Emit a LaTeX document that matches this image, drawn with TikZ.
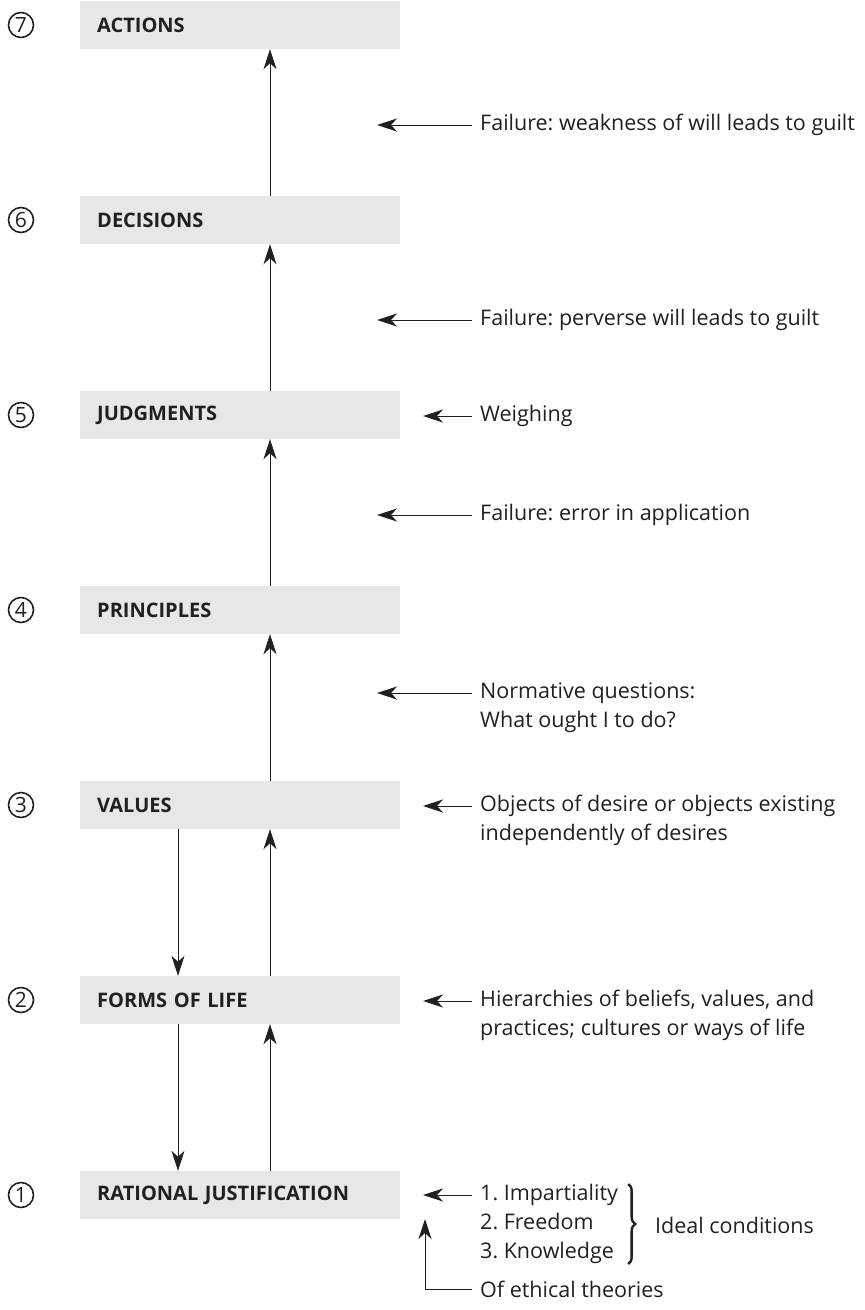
\documentclass[tikz,border=0pt]{standalone}
\usepackage{fontspec}
\setmainfont{Open Sans}
\usetikzlibrary{arrows.meta,decorations.pathreplacing}

\definecolor{boxgray}{HTML}{E6E7E8}
\definecolor{ink}{HTML}{231F20}
\frenchspacing

\begin{document}
\begin{tikzpicture}[x=1pt,y=-1pt,
  every node/.style={text=ink},
  stagebox/.style={fill=boxgray, anchor=west, minimum width=320pt, minimum height=48pt,
    text width=286pt, inner xsep=17pt, align=left, font=\fontsize{20}{24}\selectfont\bfseries},
  numcirc/.style={draw=ink, circle, line width=1.6pt, minimum size=25pt, inner sep=0pt,
    font=\fontsize{21}{22}\selectfont},
  note/.style={anchor=west, inner sep=0pt, align=left, font=\fontsize{21.5}{29}\selectfont},
  pointer/.style={draw=ink, line width=1pt, -{Stealth[length=20pt, width=13pt, inset=6pt]}},
  bracket/.style={draw=ink, line width=2.4pt, decorate, decoration={brace, amplitude=7pt}}]
\useasboundingbox (0,0) rectangle (865,1310);

% stufen
\foreach \i/\lab in {1/RATIONAL JUSTIFICATION,2/FORMS OF LIFE,3/VALUES,4/PRINCIPLES,
                     5/JUDGMENTS,6/DECISIONS,7/ACTIONS} {
\node[stagebox] (s\i) at (80,{25+(7-\i)*195}) {\lab};
\node[numcirc] (n\i) at (21,{25+(7-\i)*195}) {\i};
}
\foreach \i [evaluate=\i as \j using int(\i+1)] in {1,...,6} {
\draw[pointer] ([xshift=190pt]s\i.north west) -- ([xshift=190pt]s\j.south west);
}
\foreach \i/\j in {3/2,2/1} {
\draw[pointer] ([xshift=98pt]s\i.south west) -- ([xshift=98pt]s\j.north west);
}

% failure
\foreach \y/\nm/\txt in {125/weak/{Failure: weakness of will leads to guilt},
                         320/perv/{Failure: perverse will leads to guilt},
                         515/err/{Failure: error in application}} {
\node[note] (\nm) at (480,\y) {\txt};
\coordinate (t\nm) at (377,\y);
\draw[pointer] ([xshift=-8pt]\nm.west) -- (t\nm);
}

% rechts
\node[note] (weigh) at (480,416) {Weighing};
\coordinate (tweigh) at (423,416);
\draw[pointer] ([xshift=-8pt]weigh.west) -- (tweigh);

\node[note] (norm) at (480,707.5) {Normative questions:\\What ought I to do?};
\coordinate (tnorm) at (377,693);
\draw[pointer] ([xshift=-8pt]norm.west |- tnorm) -- (tnorm);

\node[note] (obj) at (480,820.5) {Objects of desire or objects existing\\independently of desires};
\coordinate (tobj) at (423,806);
\draw[pointer] ([xshift=-8pt]obj.west |- tobj) -- (tobj);

\node[note] (hier) at (480,1015.5) {Hierarchies of beliefs, values, and\\practices; cultures or ways of life};
\coordinate (thier) at (423,1001);
\draw[pointer] ([xshift=-8pt]hier.west |- thier) -- (thier);

% bedingungen
\node[note] (conds) at (480,1224) {1. Impartiality\\2. Freedom\\3. Knowledge};
\coordinate (tconds) at (423,1195);
\draw[pointer] ([xshift=-8pt]conds.west |- tconds) -- (tconds);
\draw[bracket] ([xshift=10pt]conds.north east) -- ([xshift=10pt]conds.south east);
\node[note] (ideal) at (655,1225) {Ideal conditions};

\node[note] (eth) at (480,1289) {Of ethical theories};
\coordinate (teth) at (425,1219);
\draw[pointer] ([xshift=-8pt]eth.west) -| (teth);
\end{tikzpicture}
\end{document}
